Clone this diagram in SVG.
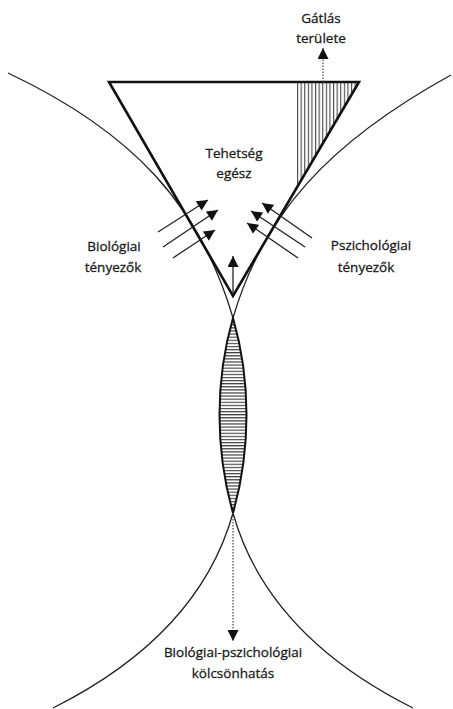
<svg xmlns="http://www.w3.org/2000/svg" width="453" height="709" viewBox="0 0 453 709">
<style>
text{font-family:"Open Sans","Liberation Sans",sans-serif;font-size:13.5px;fill:#1a1a1a;stroke:#1a1a1a;stroke-width:0.3;text-anchor:middle}
.curve{fill:none;stroke:#222;stroke-width:1.3}
.thick{fill:none;stroke:#111;stroke-width:2.6;stroke-linejoin:miter}
.arr{fill:none;stroke:#222;stroke-width:1.3}
.dot{fill:none;stroke:#555;stroke-width:1.3;stroke-dasharray:1.5 1.5}
</style>
<defs>
<marker id="ah" viewBox="0 0 10 10" refX="10" refY="5" markerUnits="userSpaceOnUse" markerWidth="12" markerHeight="11" orient="auto"><path d="M0,0 L10,5 L0,10 z" fill="#111"/></marker>
<pattern id="vh" patternUnits="userSpaceOnUse" x="297" y="0" width="3.6" height="10"><line x1="0.6" y1="0" x2="0.6" y2="10" stroke="#333" stroke-width="1"/></pattern>
<pattern id="hh" patternUnits="userSpaceOnUse" x="0" y="318" width="10" height="3.1"><line x1="0" y1="0.6" x2="10" y2="0.6" stroke="#333" stroke-width="1.1"/></pattern>
</defs>
<g id="curves">
<path class="curve" d="M8,73 C132.7,131.9 200.1,205.1 233,318"/>
<path class="curve" d="M451,75 C328.1,142.6 262.75,215.4 233,318"/>
<path class="curve" d="M233,513 C210.2,594.4 150.2,659.3 53,708"/>
<path class="curve" d="M233,513 C255.8,594.4 315.8,659.3 413,708"/>
</g>
<g id="lens">
<path d="M233,318 Q246.5,364.5 246.5,415 Q246.5,465.5 233,513 Q219.5,465.5 219.5,415 Q219.5,364.5 233,318 z" fill="url(#hh)" stroke="#111" stroke-width="2"/>
</g>
<g id="talent">
<polygon points="297,82 359,82 297,187.3" fill="url(#vh)"/>
<polygon class="thick" points="109,82 359,82 233,296"/>
</g>
<g id="connectors">
<line class="dot" x1="323" y1="82" x2="323" y2="48" marker-end="url(#ah)"/>
<line class="dot" x1="233" y1="513" x2="233" y2="641" marker-end="url(#ah)"/>
<line class="arr" x1="233" y1="294" x2="233" y2="256" marker-end="url(#ah)"/>
<line class="arr" x1="158" y1="232" x2="208" y2="200" marker-end="url(#ah)"/>
<line class="arr" x1="163" y1="247" x2="218" y2="210" marker-end="url(#ah)"/>
<line class="arr" x1="173" y1="258" x2="215" y2="230" marker-end="url(#ah)"/>
<line class="arr" x1="312" y1="238" x2="262" y2="203" marker-end="url(#ah)"/>
<line class="arr" x1="305" y1="247" x2="251" y2="211" marker-end="url(#ah)"/>
<line class="arr" x1="298" y1="258" x2="247" y2="223" marker-end="url(#ah)"/>
</g>
<g id="label-gatlas"><text x="321" y="23">Gátlás</text><text x="321" y="43">területe</text></g>
<g id="label-tehetseg"><text x="234" y="158">Tehetség</text><text x="234" y="178">egész</text></g>
<g id="label-bio"><text x="114" y="251">Biológiai</text><text x="113" y="272">tényezők</text></g>
<g id="label-pszich"><text x="371" y="250">Pszichológiai</text><text x="366" y="272">tényezők</text></g>
<g id="label-kolcson"><text x="233" y="657">Biológiai-pszichológiai</text><text x="233" y="678">kölcsönhatás</text></g>
</svg>
